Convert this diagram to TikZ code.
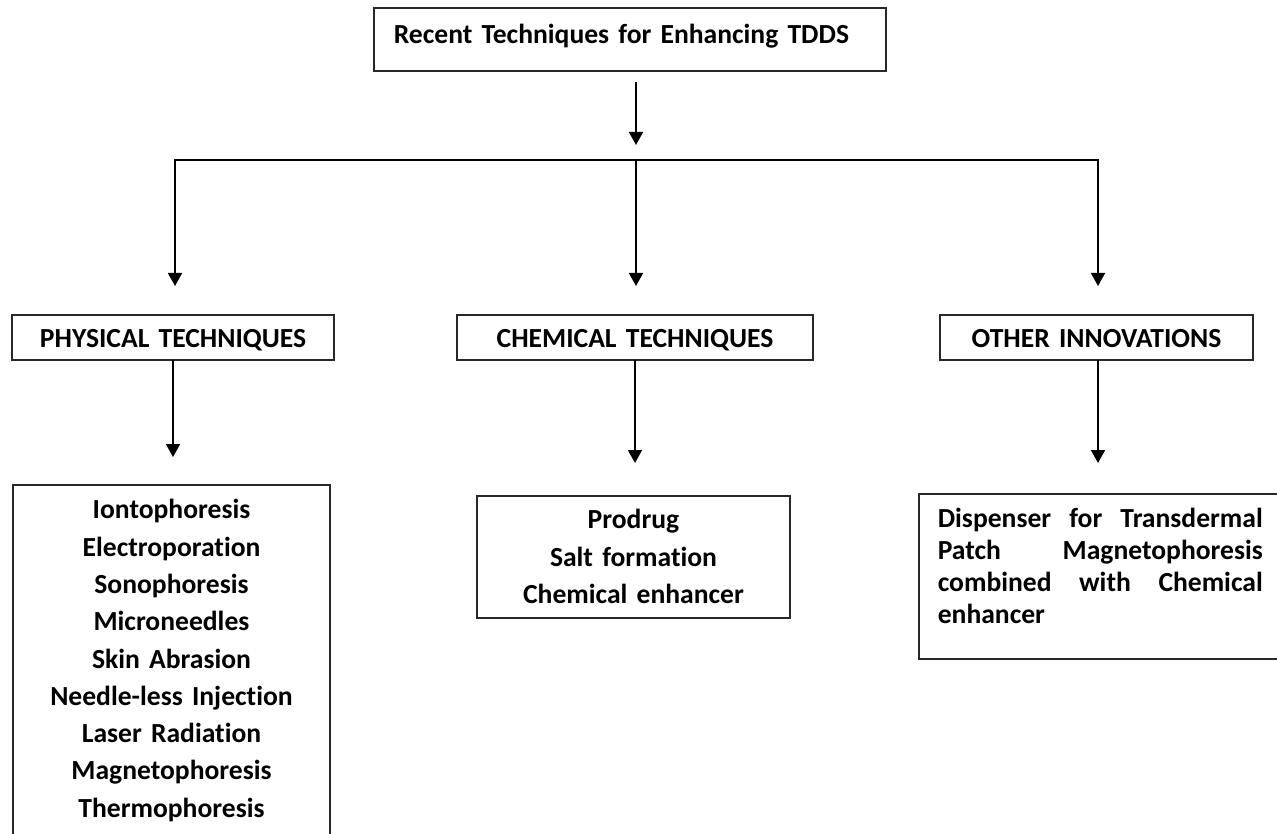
\documentclass[tikz,border=0pt]{standalone}
\usepackage{fontspec}
\setmainfont{Carlito}[Ligatures=NoCommon]
\usepackage{tikz}
\usetikzlibrary{
    arrows.meta,
    positioning,
    calc
}
\definecolor{Cline}{RGB}{40, 40, 40}
\tikzset{
    chead/.style={
        rectangle, draw=Cline, line width=1.6pt, fill=white, text=black,
        anchor=north, inner sep=0pt, align=center,
        text height=32.7pt, text depth=12.3pt,
        font=\fontsize{27.6}{32}\selectfont\bfseries
    },
    clist/.style={
        rectangle, draw=Cline, line width=1.6pt, fill=white, text=black,
        inner sep=0pt, font=\fontsize{27.6}{37.3}\selectfont\bfseries
    },
    carr/.style={-{Triangle[length=13pt, width=14pt]}, line width=1.6pt, black, line cap=rect},
    cline/.style={line width=1.6pt, black, line cap=rect},
}

\begin{document}
\begin{tikzpicture}[x=1pt, y=-1pt]

    \useasboundingbox (0,0) rectangle (1277,834);

    \node [clist, anchor=north west, inner xsep=20pt, text width=472pt, align=left,
           text height=35.3pt, text depth=27.7pt]
        (tdds) at (373,7) {Recent Techniques for Enhancing TDDS};

    \node [chead, text width=322pt] (phys)  at (173,314)    {PHYSICAL TECHNIQUES};
    \node [chead, text width=356pt] (chem)  at (635,314)    {CHEMICAL TECHNIQUES};
    \node [chead, text width=313pt] (other) at (1096.5,314) {OTHER INNOVATIONS};

    \node [clist, anchor=north, text width=317pt, align=center,
           text height=34pt, text depth=400pt]
        (physlist) at (171.5,484) {Iontophoresis\\Electroporation\\Sonophoresis\\Microneedles\\Skin Abrasion\\Needle-less Injection\\Laser Radiation\\Magnetophoresis\\Thermophoresis};
    \node [clist, anchor=north, text width=313pt, align=center,
           text height=33pt, text depth=89pt]
        (chemlist) at (633.5,495) {Prodrug\\Salt formation\\Chemical enhancer};
    \node [clist, anchor=north west, inner xsep=19pt, text width=325pt, align=justify,
           text height=34pt, text depth=131pt, font=\fontsize{27.6}{32}\selectfont\bfseries]
        (otherlist) at (918,493) {Dispenser for Transdermal\linebreak Patch Magnetophoresis\linebreak combined with Chemical\linebreak enhancer};

    % branching line under the title
    \coordinate (hub)  at (636,160);
    \coordinate (hubl) at (175,160);
    \coordinate (hubr) at (1098,160);

    \draw [carr, shorten <=11pt, shorten >=15pt] (tdds.south -| hub) -- (hub);
    \draw [cline] (hubl) -- (hubr);
    \draw [carr, shorten >=28pt] (hubl) -- (hubl |- phys.north);
    \draw [carr, shorten >=28pt] (hub) -- (hub |- chem.north);
    \draw [carr, shorten >=28pt] (hubr) -- (hubr |- other.north);

    \draw [carr, shorten >=27pt] (phys.south) -- (phys.south |- physlist.north);
    \draw [carr, shorten >=32pt] (chem.south) -- (chem.south |- chemlist.north);
    \draw [carr, shorten >=30pt] (hubr |- other.south) -- (hubr |- otherlist.north);

\end{tikzpicture}
\end{document}
